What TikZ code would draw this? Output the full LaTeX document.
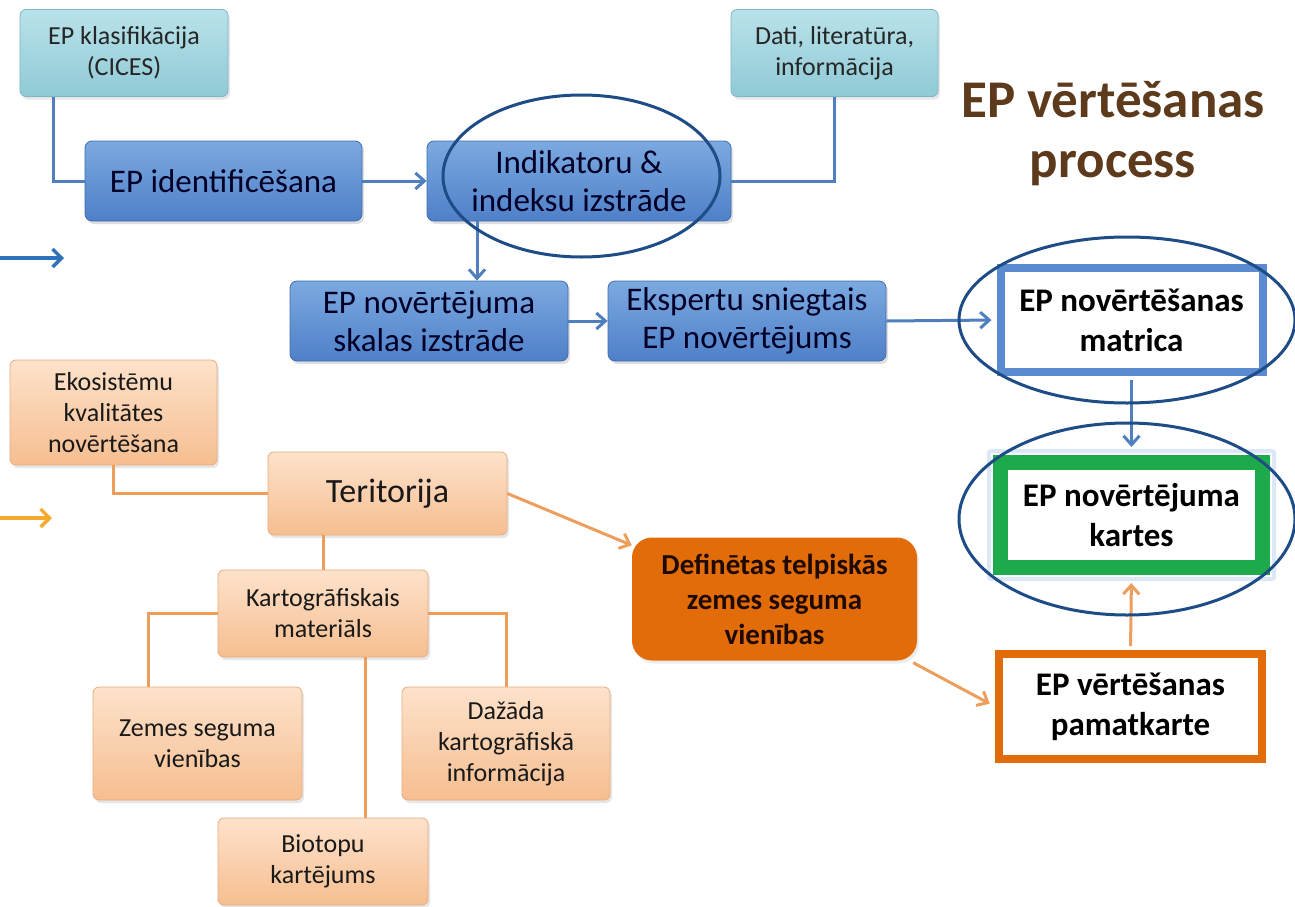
\documentclass[tikz,border=0pt]{standalone}
\usepackage{fontspec}
\setmainfont{Carlito}
\usetikzlibrary{arrows.meta,shadows,calc}
\definecolor{blueTop}{HTML}{7BA9E0}
\definecolor{blueBot}{HTML}{4F80C8}
\definecolor{blueBd}{HTML}{3F6DB0}
\definecolor{cyanTop}{HTML}{B9E2EA}
\definecolor{cyanBot}{HTML}{8FCAD6}
\definecolor{cyanBd}{HTML}{7AB6C4}
\definecolor{peachTop}{HTML}{FDE2CB}
\definecolor{peachBot}{HTML}{F6BE90}
\definecolor{peachBd}{HTML}{E9AC7E}
\definecolor{lineBlue}{HTML}{4F7FBD}
\definecolor{lineOrange}{HTML}{EE9E5C}
\definecolor{arrBlue}{HTML}{2E72BA}
\definecolor{arrOrange}{HTML}{F5A92E}
\definecolor{defOrange}{HTML}{E36C0A}
\definecolor{defText}{HTML}{1E0A00}
\definecolor{matBlue}{HTML}{5A8BD0}
\definecolor{mapGreen}{HTML}{1DAA4B}
\definecolor{glow}{HTML}{DDE8F6}
\definecolor{ellBlue}{HTML}{1E4C86}
\definecolor{titleBrown}{HTML}{5C3A1B}
\begin{document}
\begin{tikzpicture}[x=1pt,y=-1pt,
  every node/.style={align=center, inner sep=2pt},
  bluebox/.style={rounded corners=7pt, top color=blueTop, bottom color=blueBot, draw=blueBd, line width=0.8pt,
    drop shadow={opacity=0.25, shadow xshift=2pt, shadow yshift=-3pt},
    text=black!85!blue, font=\fontsize{33}{38}\selectfont},
  cyanbox/.style={rounded corners=6pt, top color=cyanTop, bottom color=cyanBot, draw=cyanBd, line width=0.8pt,
    drop shadow={opacity=0.2, shadow xshift=2pt, shadow yshift=-3pt},
    text=black!85, font=\fontsize{26}{31}\selectfont},
  peachbox/.style={rounded corners=6pt, top color=peachTop, bottom color=peachBot, draw=peachBd, line width=0.8pt,
    drop shadow={opacity=0.2, shadow xshift=2pt, shadow yshift=-3pt},
    text=black!90, font=\fontsize{26}{31}\selectfont},
  framebox/.style={fill=white, line width=8pt, font=\bfseries\fontsize{33}{40}\selectfont, text=black},
  bline/.style={draw=lineBlue, line width=3pt},
  barrow/.style={bline, -{Straight Barb[length=9pt,width=16pt,line width=3pt]}},
  oline/.style={draw=lineOrange, line width=3pt},
  oarrow/.style={oline, -{Straight Barb[length=9pt,width=16pt,line width=3pt]}},
  ring/.style={draw=ellBlue, line width=3pt}
]
\useasboundingbox (0,0) rectangle (1295,907);

% top row
\node[cyanbox, minimum width=208pt, minimum height=87pt] (cices) at (124,53) {EP klasifikācija\\(CICES)};
\node[cyanbox, minimum width=207pt, minimum height=87pt] (dati) at (834.5,53) {Dati, literatūra,\\informācija};
\node[bluebox, minimum width=277pt, minimum height=80pt] (ident) at (223.5,181) {EP identificēšana};
\node[bluebox, minimum width=304pt, minimum height=80pt] (indik) at (579,181) {Indikatoru \&\\indeksu izstrāde};
\node[bluebox, minimum width=278pt, minimum height=80pt] (skalas) at (429,321) {EP novērtējuma\\skalas izstrāde};
\node[bluebox, minimum width=278pt, minimum height=80pt] (eksp) at (747,321) {Ekspertu sniegtais\\EP novērtējums};

% title
\node[font=\bfseries\fontsize{53}{60}\selectfont, text=titleBrown] (title) at (1113,134) {EP vērtēšanas\\process};

% right framed boxes
\draw[draw=glow, line width=4pt, rounded corners=2pt] (989,451) rectangle (1274,579);
\node[framebox, draw=matBlue, minimum width=262pt, minimum height=104pt] (matrica) at (1131.5,320) {EP novērtēšanas\\matrica};
\node[framebox, draw=mapGreen, line width=15pt, minimum width=262pt, minimum height=105pt] (kartes) at (1131.5,515) {EP novērtējuma\\kartes};
\node[framebox, draw=defOrange, minimum width=263pt, minimum height=105pt] (pamat) at (1130.5,706.5) {EP vērtēšanas\\pamatkarte};

% lower tree
\node[peachbox, minimum width=207pt, minimum height=105pt] (ekos) at (113.5,412.5) {Ekosistēmu\\kvalitātes\\novērtēšana};
\node[peachbox, minimum width=239pt, minimum height=83pt, font=\fontsize{34}{38}\selectfont] (terit) at (387.5,493.5) {Teritorija};
\node[peachbox, minimum width=210pt, minimum height=87pt] (kartogr) at (323,613.5) {Kartogrāfiskais\\materiāls};
\node[peachbox, minimum width=209pt, minimum height=113pt] (zemes) at (197.5,743.5) {Zemes seguma\\vienības};
\node[peachbox, minimum width=208pt, minimum height=113pt] (dazada) at (506,743.5) {Dažāda\\kartogrāfiskā\\informācija};
\node[peachbox, minimum width=210pt, minimum height=87pt] (bio) at (323,861.5) {Biotopu\\kartējums};
\node[rounded corners=20pt, fill=defOrange, minimum width=285pt, minimum height=123pt,
  drop shadow={opacity=0.15, shadow xshift=2pt, shadow yshift=-3pt},
  font=\bfseries\fontsize{29}{35}\selectfont, text=defText] (defin) at (774.5,599) {Definētas telpiskās\\zemes seguma\\vienības};

% left arrows
\coordinate (b1) at (0,258);
\coordinate (b2) at (64,258);
\coordinate (o1) at (0,518);
\coordinate (o2) at (52,518);
\draw[draw=arrBlue, line width=3.5pt, -{Straight Barb[length=9pt,width=18pt,line width=3.5pt]}] (b1) -- (b2);
\draw[draw=arrOrange, line width=3.5pt, -{Straight Barb[length=9pt,width=18pt,line width=3.5pt]}] (o1) -- (o2);

% blue connectors
\draw[bline] ([xshift=-71pt]cices.south) |- (ident.west);
\draw[bline] (dati.south) |- (indik.east);
\draw[barrow] (ident.east) -- (indik.west);
\draw[barrow] ([xshift=-102pt]indik.south) -- ([xshift=-102pt]indik.south |- skalas.north);
\draw[barrow] (skalas.east) -- (eksp.west);
\draw[barrow, shorten >=5pt] (eksp.east) -- (matrica.west);
\draw[barrow, shorten <=4pt, shorten >=8pt] (matrica.south) -- (kartes.north);

% orange connectors
\draw[oarrow, shorten <=4pt, shorten >=8pt] (pamat.north) -- (kartes.south);
\draw[oarrow, shorten >=6pt] ([xshift=-4pt,yshift=-2pt]defin.south east) -- (pamat.west);
\draw[oarrow] (terit.east) -- ([yshift=-8pt]defin.north west);
\draw[oline] ([xshift=-0.5pt]ekos.south) |- (terit.west);
\draw[oline] (kartogr.north |- terit.south) -- (kartogr.north);
\draw[oline] (kartogr.west) -| ([xshift=-49.5pt]zemes.north);
\draw[oline] (kartogr.east) -| (dazada.north);
\draw[oline] ([xshift=42pt]kartogr.south) -- ([xshift=42pt]bio.north);

% highlight ellipses
\draw[ring] (581.5,176) ellipse [x radius=138.5pt, y radius=81pt];
\draw[ring] (1127,320) ellipse [x radius=168pt, y radius=83pt];
\draw[ring] (1127,519) ellipse [x radius=168pt, y radius=96pt];
\end{tikzpicture}
\end{document}
